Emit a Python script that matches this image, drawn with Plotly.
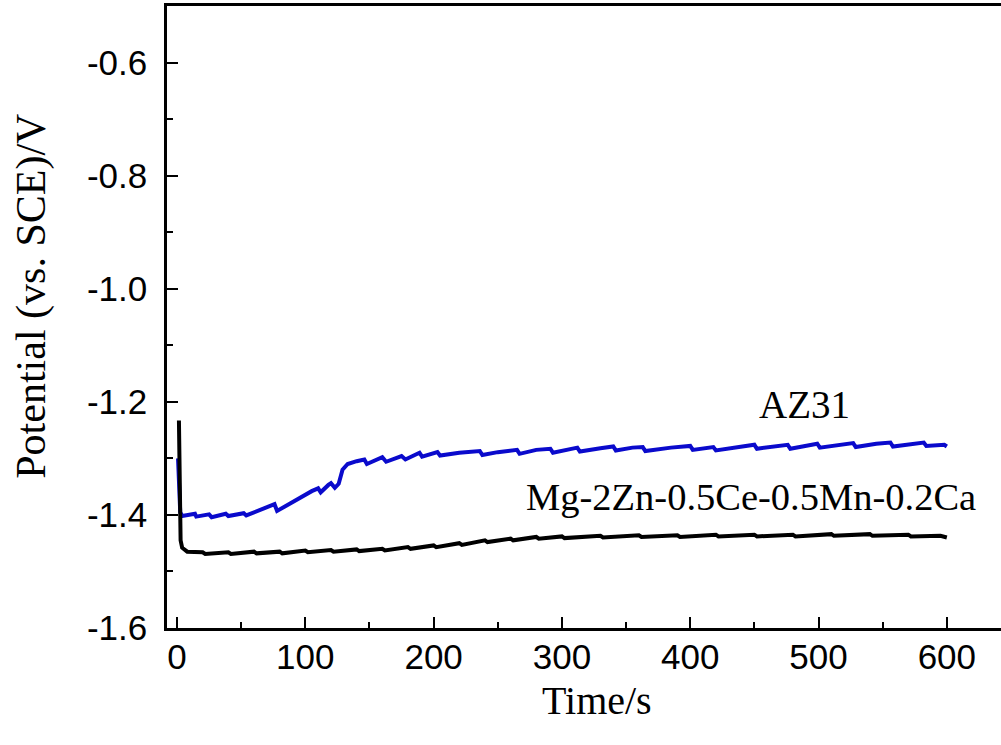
import plotly.graph_objects as go

# AZ31 open-circuit potential (blue)
az31_t = [0.8, 1.5, 2.5, 4, 10, 14, 15, 25, 27, 38, 40, 52, 54, 62, 70, 76, 78, 85, 95, 105,
          110, 112, 118, 120, 123, 126, 129, 133, 140, 146, 148, 160, 163, 175, 178, 189, 191,
          203, 205, 220, 236, 238, 250, 265, 267, 280, 291, 293, 312, 314, 330, 340, 342, 355,
          363, 365, 385, 400, 402, 418, 420, 440, 450, 452, 476, 478, 499, 501, 527, 529, 545,
          556, 558, 582, 584, 598, 600]
az31_v = [-1.300, -1.360, -1.395, -1.402, -1.400, -1.398, -1.403, -1.399, -1.404, -1.398, -1.402,
          -1.397, -1.401, -1.394, -1.388, -1.381, -1.393, -1.384, -1.370, -1.358, -1.353, -1.360,
          -1.347, -1.344, -1.352, -1.345, -1.320, -1.310, -1.305, -1.302, -1.310, -1.298, -1.306,
          -1.296, -1.302, -1.290, -1.297, -1.289, -1.295, -1.290, -1.287, -1.294, -1.289, -1.285,
          -1.292, -1.285, -1.283, -1.290, -1.281, -1.288, -1.282, -1.279, -1.286, -1.281, -1.280,
          -1.287, -1.281, -1.278, -1.285, -1.280, -1.286, -1.279, -1.276, -1.283, -1.276, -1.283,
          -1.274, -1.281, -1.273, -1.280, -1.274, -1.272, -1.279, -1.272, -1.278, -1.276, -1.279]

# Mg-2Zn-0.5Ce-0.5Mn-0.2Ca open-circuit potential (black)
mg_t = [1.5, 2.0, 2.8, 4, 8, 20, 22, 40, 42, 60, 62, 80, 82, 100, 102, 120, 122, 140, 142, 160,
        162, 180, 182, 200, 202, 220, 222, 240, 242, 260, 262, 280, 282, 300, 302, 330, 332, 360,
        362, 390, 392, 420, 422, 450, 452, 480, 482, 510, 512, 540, 542, 570, 572, 595, 600]
mg_v = [-1.233, -1.400, -1.445, -1.458, -1.465, -1.466, -1.469, -1.466, -1.469, -1.465, -1.468,
        -1.465, -1.468, -1.463, -1.466, -1.462, -1.465, -1.461, -1.464, -1.460, -1.463, -1.457,
        -1.460, -1.454, -1.457, -1.450, -1.453, -1.445, -1.448, -1.442, -1.445, -1.439, -1.442,
        -1.438, -1.441, -1.437, -1.440, -1.436, -1.439, -1.436, -1.439, -1.435, -1.438, -1.435,
        -1.438, -1.435, -1.438, -1.434, -1.437, -1.434, -1.437, -1.435, -1.438, -1.437, -1.440]

x_ticks = [0, 100, 200, 300, 400, 500, 600]
y_ticks = [-1.6, -1.4, -1.2, -1.0, -0.8, -0.6]
y_tick_text = ["-1.6", "-1.4", "-1.2", "-1.0", "-0.8", "-0.6"]

fig = go.Figure()
fig.add_trace(go.Scatter(x=az31_t, y=az31_v, mode="lines",
                         line=dict(color="#0A0ACC", width=4), name="AZ31"))
fig.add_trace(go.Scatter(x=mg_t, y=mg_v, mode="lines",
                         line=dict(color="#000000", width=4), name="Mg-2Zn-0.5Ce-0.5Mn-0.2Ca"))

tick_font = dict(family="Liberation Sans, Arial, sans-serif", size=35, color="black")
serif = "Liberation Serif, Times New Roman, serif"

fig.update_layout(
    width=1001, height=745,
    margin=dict(l=167, r=0, t=6, b=117),
    paper_bgcolor="white", plot_bgcolor="white",
    showlegend=False,
    xaxis=dict(range=[-7.8, 642.2], tickvals=x_ticks, ticks="inside", ticklen=11, tickwidth=2,
               tickcolor="black", showline=True, linecolor="black", linewidth=2.5, mirror=True,
               showgrid=False, zeroline=False, tickfont=tick_font, ticklabelstandoff=-4,
               minor=dict(dtick=50, tick0=0, ticks="inside", ticklen=6, tickwidth=2, tickcolor="black")),
    yaxis=dict(range=[-1.6, -0.5], tickvals=y_ticks, ticktext=y_tick_text, ticks="inside",
               ticklen=11, tickwidth=2, tickcolor="black", showline=True, linecolor="black",
               linewidth=2.5, mirror=False, showgrid=False, zeroline=False, tickfont=tick_font,
               ticklabelstandoff=10,
               minor=dict(dtick=0.1, tick0=-1.6, ticks="inside", ticklen=6, tickwidth=2, tickcolor="black")),
    annotations=[
        dict(text="Time/s", xref="paper", yref="paper", x=0.516, y=-0.116, showarrow=False,
             font=dict(family=serif, size=40, color="black"), xanchor="center", yanchor="middle"),
        dict(text="Potential (vs. SCE)/V", xref="paper", yref="paper", x=-0.162, y=0.534,
             showarrow=False, textangle=-90,
             font=dict(family=serif, size=42, color="black"), xanchor="center", yanchor="middle"),
        dict(text="AZ31", x=489, y=-1.205, xref="x", yref="y", showarrow=False,
             font=dict(family=serif, size=39, color="black"), xanchor="center", yanchor="middle"),
        dict(text="Mg-2Zn-0.5Ce-0.5Mn-0.2Ca", x=447, y=-1.368, xref="x", yref="y", showarrow=False,
             font=dict(family=serif, size=38.5, color="black"), xanchor="center", yanchor="middle"),
    ],
)

fig.write_html("out.html", post_script="document.body.style.margin='0';",
               config={"displayModeBar": False})
